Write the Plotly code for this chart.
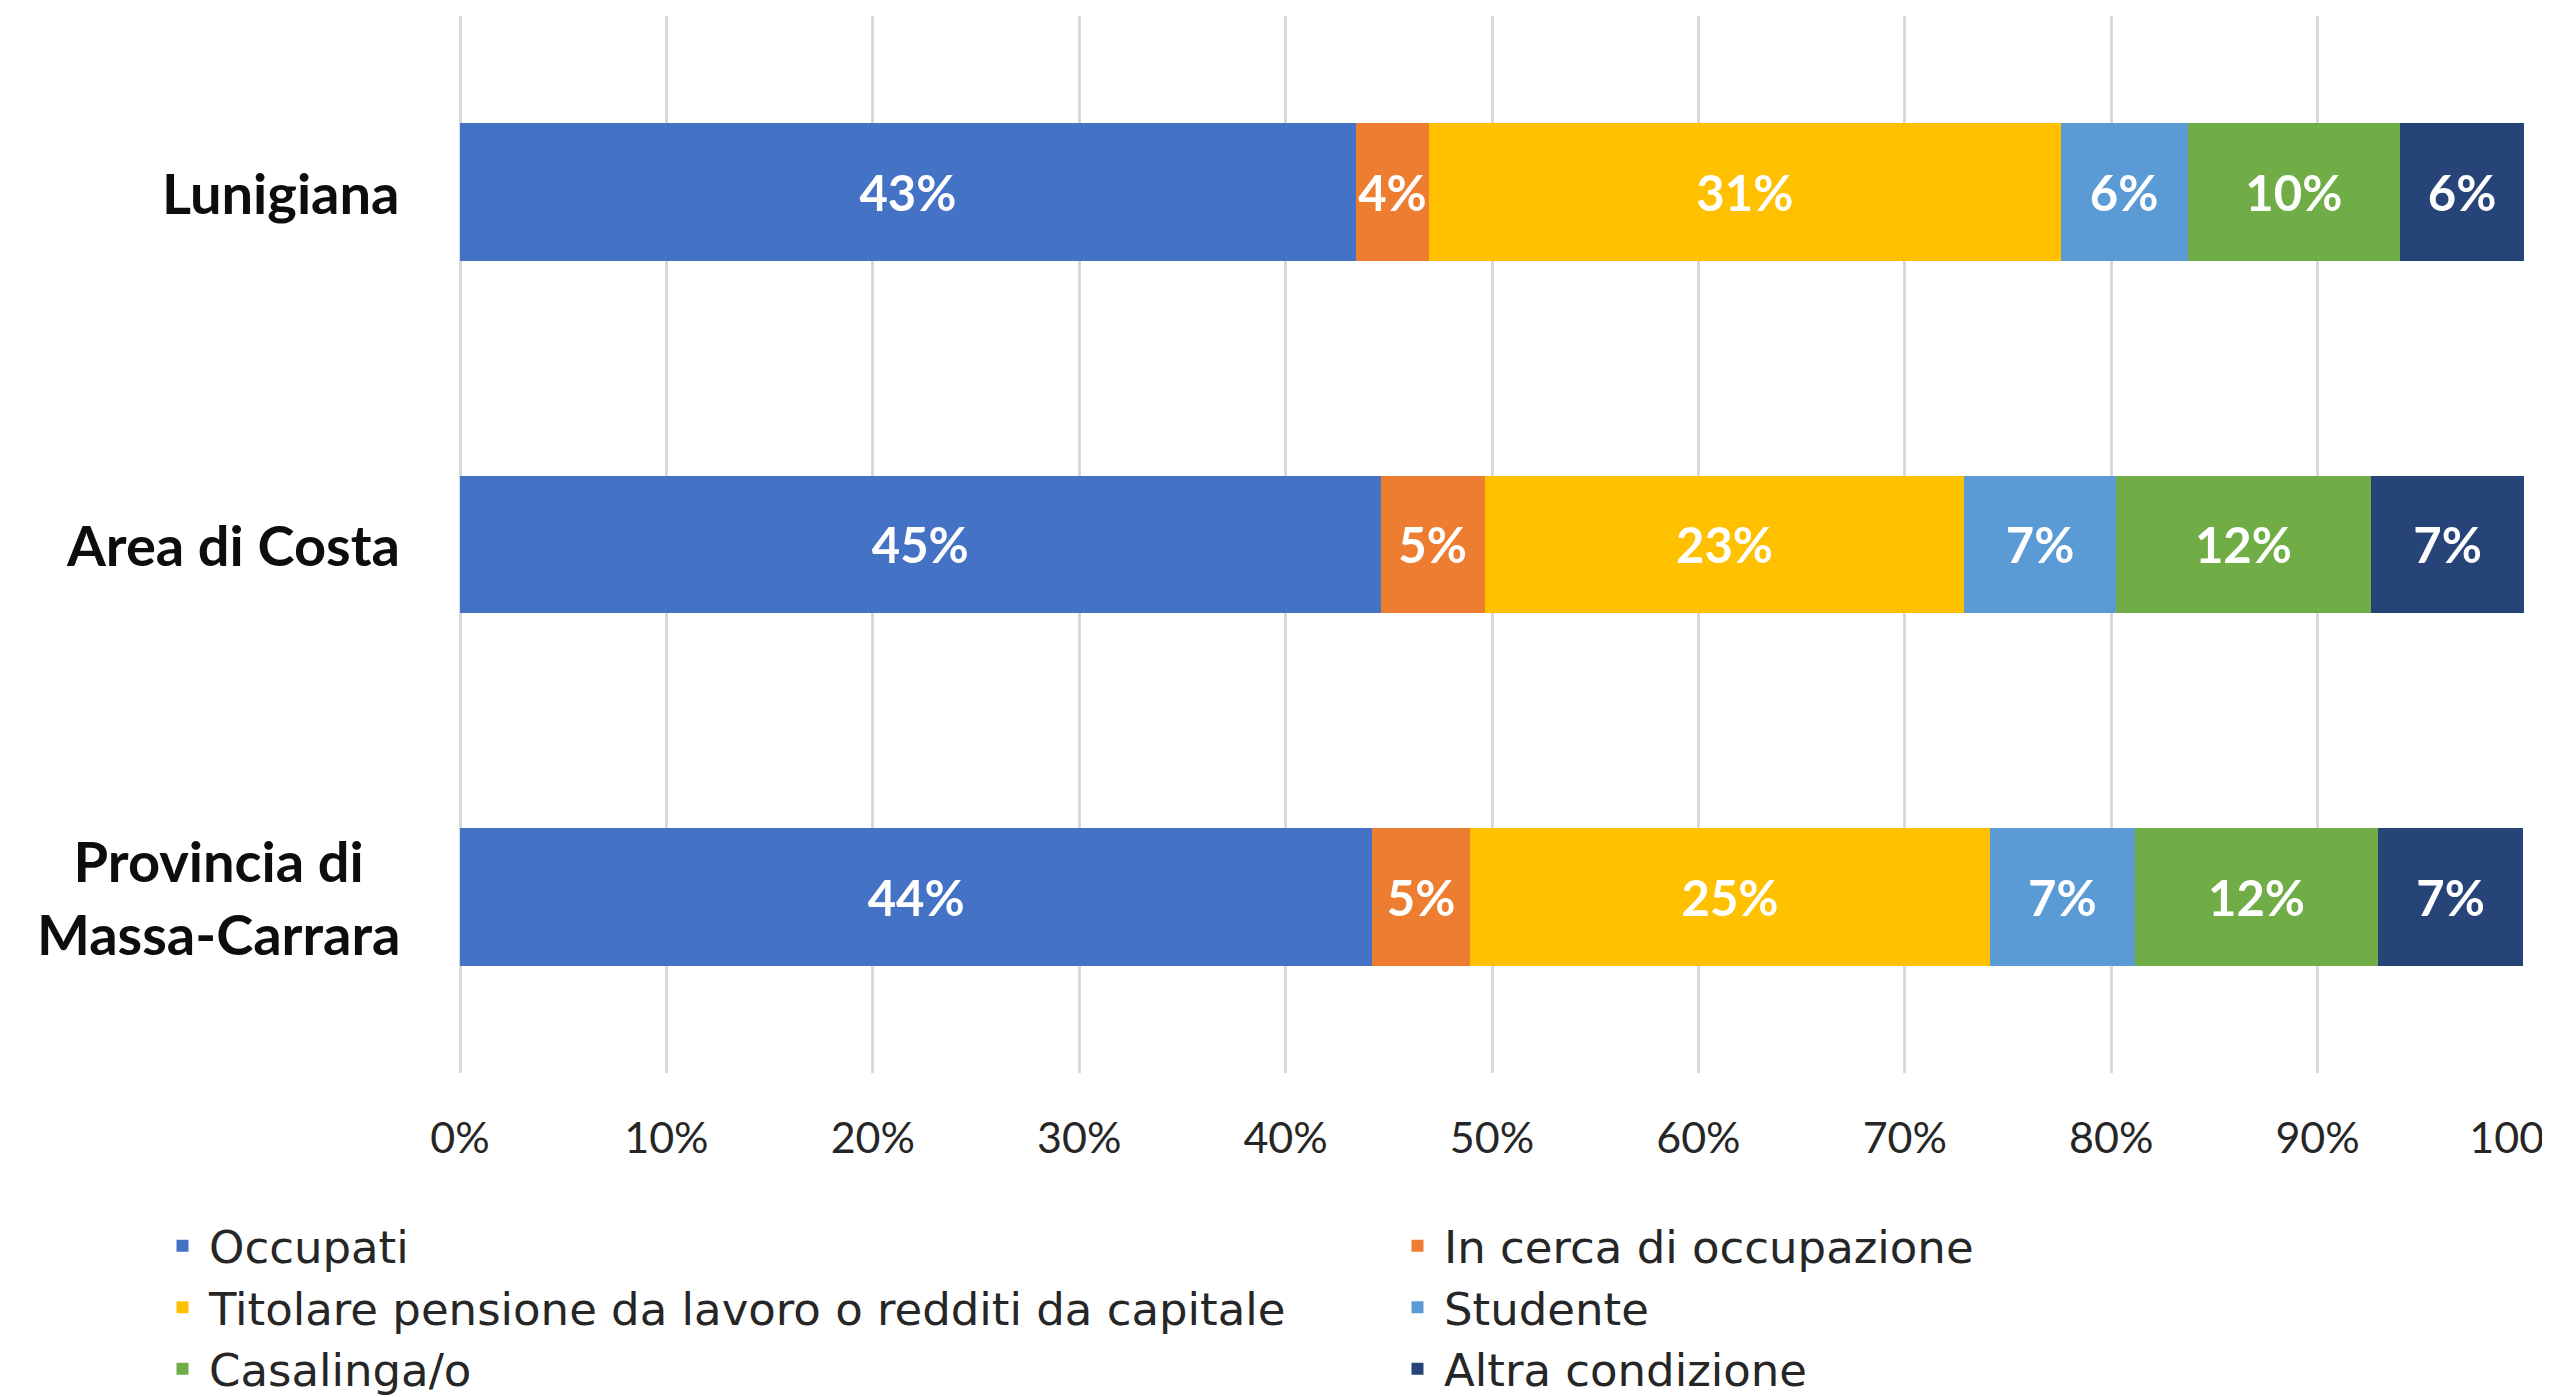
import plotly.graph_objects as go

regions = ["Lunigiana", "Area di Costa", "Provincia di<br>Massa-Carrara"]
series_names = ["Occupati", "In cerca di occupazione",
                "Titolare pensione da lavoro o redditi da capitale",
                "Studente", "Casalinga/o", "Altra condizione"]
occupati = [43.4, 44.6, 44.2]
in_cerca = [3.55, 5.04, 4.73]
titolare = [30.6, 23.25, 25.2]
studente = [6.15, 7.33, 7.01]
casalinga = [10.3, 12.37, 11.8]
altra = [6.0, 7.41, 7.0]
series_values = [occupati, in_cerca, titolare, studente, casalinga, altra]
colors = ["#4472C4", "#ED7D31", "#FFC000", "#5B9BD5", "#70AD47", "#264478"]
tick_vals = [0, 10, 20, 30, 40, 50, 60, 70, 80, 90, 100]
tick_text = [f"{v}%" for v in tick_vals]

FONT = "Lato"
LEG_FONT = "DejaVu Sans"
W, H = 2542, 1389
ML, MR, MT, MB = 452, 26, 8, 324

fig = go.Figure()
legend_of = ["legend", "legend2", "legend", "legend2", "legend", "legend2"]
for name, vals, col, lg in zip(series_names, series_values, colors, legend_of):
    fig.add_trace(go.Bar(
        y=regions, x=vals, name=name, orientation="h",
        marker=dict(color=col, line=dict(width=0)),
        texttemplate="%{x:.0f}%", textposition="inside", textangle=0,
        insidetextanchor="middle", constraintext="none",
        textfont=dict(family=FONT, size=49, color="white", weight="bold"),
        legend=lg, hoverinfo="x+name",
    ))

fig.update_layout(
    width=W, height=H, barmode="stack", bargap=0.61,
    margin=dict(l=ML, r=MR, t=MT, b=MB, autoexpand=False),
    paper_bgcolor="white", plot_bgcolor="white",
    font=dict(family=FONT, color="#262626"),
    xaxis=dict(range=[0, 100], tickvals=tick_vals, ticktext=tick_text,
               showgrid=True, gridcolor="#D9D9D9", gridwidth=3,
               zeroline=True, zerolinecolor="#D9D9D9", zerolinewidth=3,
               showline=False, ticks="", ticklabelstandoff=36,
               ticklabeloverflow="allow",
               tickfont=dict(family=FONT, size=43, color="#262626")),
    yaxis=dict(autorange="reversed", showticklabels=False, showgrid=False,
               zeroline=False, showline=False, ticks=""),
    legend=dict(orientation="v", x=148 / W, xref="container", xanchor="left",
                y=1 - 1202 / H, yref="container", yanchor="top",
                font=dict(family=LEG_FONT, size=45, color="#262626"),
                bgcolor="rgba(0,0,0,0)", tracegroupgap=0, itemwidth=43,
                traceorder="normal"),
    legend2=dict(orientation="v", x=1383 / W, xref="container", xanchor="left",
                 y=1 - 1202 / H, yref="container", yanchor="top",
                 font=dict(family=LEG_FONT, size=45, color="#262626"),
                 bgcolor="rgba(0,0,0,0)", tracegroupgap=0, itemwidth=43,
                 traceorder="normal"),
)

for r in regions:
    fig.add_annotation(x=0, xref="paper", xanchor="right", xshift=-58,
                       y=r, yref="y", yanchor="middle", text=r,
                       showarrow=False, align="center",
                       font=dict(family=FONT, size=56, color="#0D0D0D", weight="bold"))

fig.write_html("out.html")
